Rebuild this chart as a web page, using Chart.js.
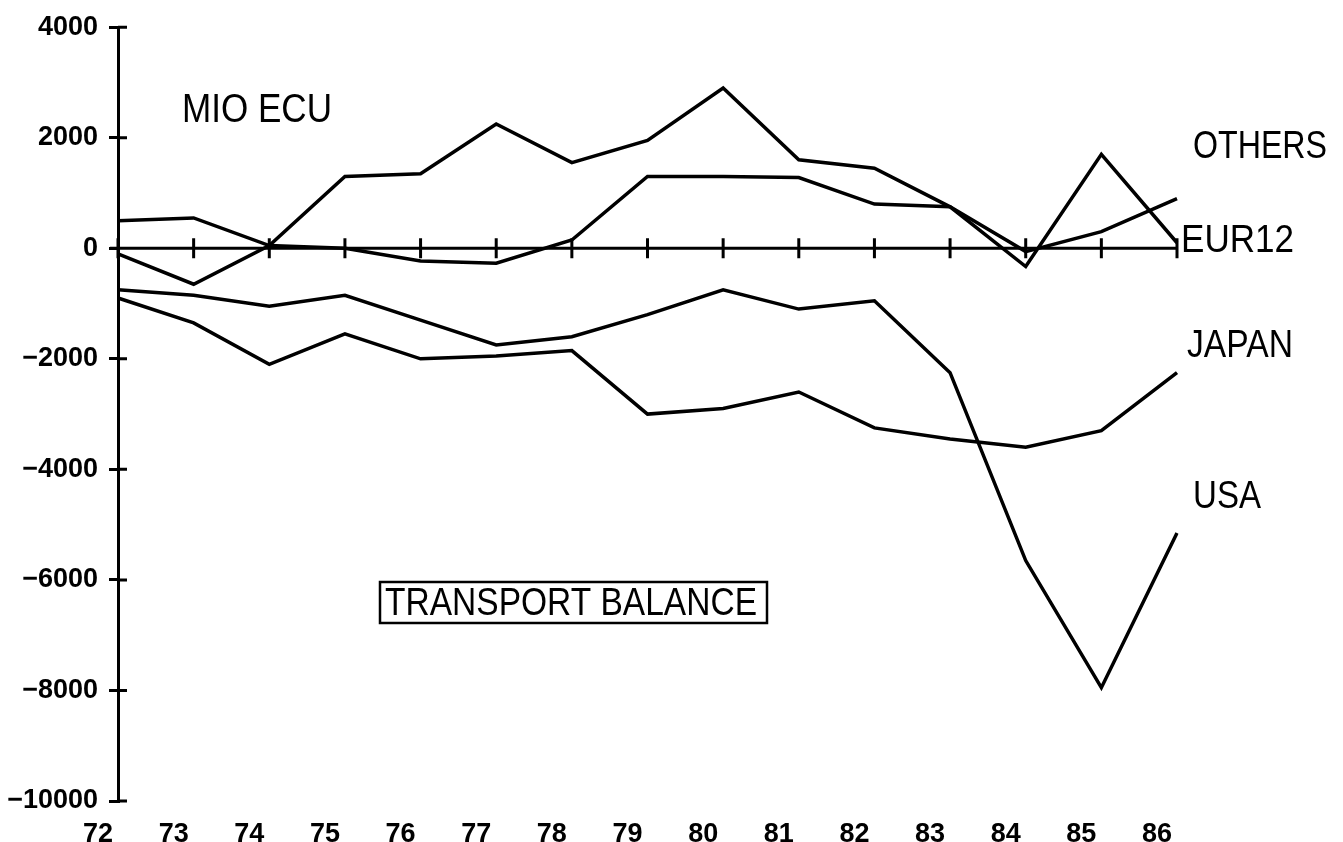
<!DOCTYPE html>
<html>
<head>
<meta charset="utf-8">
<title>Transport balance</title>
<script src="https://cdn.jsdelivr.net/npm/chart.js@4/dist/chart.umd.min.js"></script>
<style>
  html, body {
    margin: 0;
    padding: 0;
    background: #fff;
  }
  .chart-box {
    width: 1343px;
    height: 842px;
  }
</style>
</head>
<body>
<div class="chart-box">
  <canvas id="balance" width="1343" height="842"></canvas>
</div>
<script>
  // values, MIO ECU
  const years = [`72`, `73`, `74`, `75`, `76`, `77`, `78`, `79`, `80`, `81`, `82`, `83`, `84`, `85`, `86`];
  const others = [500, 550, 50, 0, -230, -270, 150, 1300, 1300, 1280, 800, 750, -60, 300, 900];
  const eur12 = [-100, -650, 50, 1300, 1350, 2250, 1550, 1950, 2900, 1600, 1450, 750, -330, 1700, 100];
  const japan = [-900, -1350, -2100, -1550, -2000, -1950, -1850, -3000, -2900, -2600, -3250, -3450, -3600, -3300, -2250];
  const usa = [-750, -850, -1050, -850, -1300, -1750, -1600, -1200, -750, -1100, -950, -2250, -5650, -7950, -5150];

  const yMin = -10000;
  const yMax = 4000;
  const yStep = 2000;

  const unitLabel = `MIO ECU`;
  const titleLabel = `TRANSPORT BALANCE`;

  const BLACK = `#000`;
  const TICK_FONT = {family: `"Liberation Sans", Arial, sans-serif`, weight: `bold`, size: 27};
  const TEXT_FONT = `38px "Liberation Sans", Arial, sans-serif`;

  // where the hand placed texts sit: [x, baseline, max width]
  const seriesLabelPos = {
    OTHERS: [1193, 158, 134],
    EUR12: [1181, 252, 113],
    JAPAN: [1187, 357, 106],
    USA: [1193, 508, 68]
  };

  const makeLine = (label, data) => ({
    label,
    data,
    borderColor: BLACK,
    borderWidth: 3.5,
    pointRadius: 0,
    fill: false,
    tension: 0
  });

  const overlay = {
    id: `overlay`,
    beforeDatasetsDraw(chart) {
      const {ctx, chartArea, scales: {x, y}} = chart;
      const zeroY = y.getPixelForValue(0);
      ctx.save();
      ctx.strokeStyle = BLACK;
      ctx.lineWidth = 3;
      ctx.beginPath();
      // zero line with year ticks
      ctx.moveTo(chartArea.left - 8, zeroY);
      ctx.lineTo(chartArea.right, zeroY);
      years.forEach((year, i) => {
        const px = x.getPixelForValue(i);
        ctx.moveTo(px, zeroY - 10);
        ctx.lineTo(px, zeroY + 10);
      });
      // y ticks cross the axis, the library only draws the outer half
      y.ticks.forEach((tick) => {
        const py = y.getPixelForValue(tick.value);
        ctx.moveTo(chartArea.left, py);
        ctx.lineTo(chartArea.left + 9, py);
      });
      ctx.stroke();
      ctx.restore();
    },
    afterDraw(chart) {
      const {ctx} = chart;
      ctx.save();
      ctx.fillStyle = BLACK;
      ctx.textBaseline = `alphabetic`;
      ctx.textAlign = `left`;

      ctx.font = `40px "Liberation Sans", Arial, sans-serif`;
      ctx.fillText(unitLabel, 182, 122, 150);

      ctx.font = TEXT_FONT;
      chart.data.datasets.forEach((ds) => {
        const [lx, ly, lw] = seriesLabelPos[ds.label];
        ctx.fillText(ds.label, lx, ly, lw);
      });

      ctx.fillText(titleLabel, 385, 615, 372);
      ctx.lineWidth = 2.5;
      ctx.strokeStyle = BLACK;
      ctx.strokeRect(380, 582, 387, 41);
      ctx.restore();
    }
  };

  new Chart(document.getElementById(`balance`), {
    type: `line`,
    data: {
      labels: years,
      datasets: [
        makeLine(`OTHERS`, others),
        makeLine(`EUR12`, eur12),
        makeLine(`JAPAN`, japan),
        makeLine(`USA`, usa)
      ]
    },
    options: {
      responsive: false,
      animation: false,
      layout: {
        padding: {top: 25, right: 166, left: 0, bottom: 0}
      },
      plugins: {
        legend: {display: false},
        tooltip: {enabled: false}
      },
      scales: {
        x: {
          type: `category`,
          offset: false,
          grid: {display: false},
          border: {display: false},
          ticks: {
            color: BLACK,
            font: TICK_FONT,
            labelOffset: -20,
            padding: 9,
            maxRotation: 0,
            autoSkip: false
          },
          afterFit(scale) {
            scale.height = 41;
          }
        },
        y: {
          min: yMin,
          max: yMax,
          grid: {
            drawOnChartArea: false,
            drawTicks: true,
            tickLength: 9,
            lineWidth: 3,
            color: BLACK
          },
          border: {display: true, color: BLACK, width: 3},
          ticks: {
            stepSize: yStep,
            color: BLACK,
            padding: 11,
            font: TICK_FONT,
            callback: (value) => String(value).replace(`-`, `\u2212`)
          },
          afterFit(scale) {
            scale.width = 118;
          }
        }
      }
    },
    plugins: [overlay]
  });
</script>
</body>
</html>
